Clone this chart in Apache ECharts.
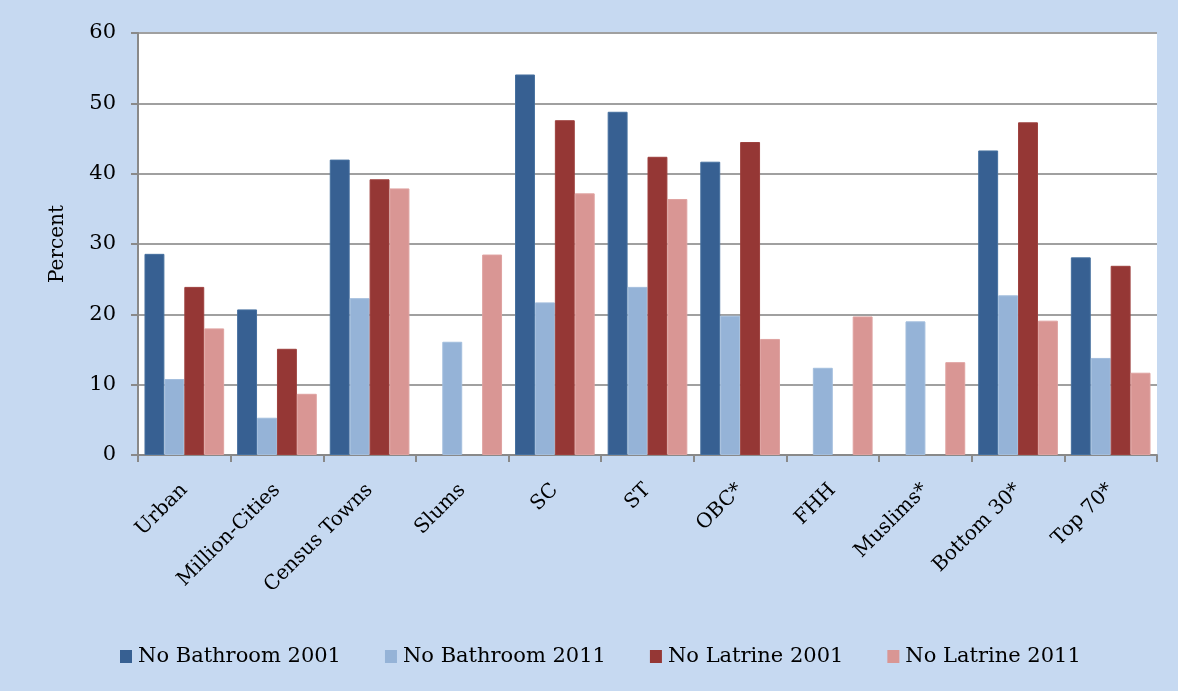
<!DOCTYPE html>
<html>
<head>
<meta charset="utf-8">
<script src="https://cdn.jsdelivr.net/npm/echarts@6/dist/echarts.min.js"></script>
<style>
  html, body { margin: 0; padding: 0; background: #c6d9f1; }
  #chart { width: 1178px; height: 691px; }
</style>
</head>
<body>
<div id="chart"></div>
<script>
// Household groups along the horizontal axis
const categories = ['Urban', 'Million-Cities', 'Census Towns', 'Slums', 'SC', 'ST', 'OBC*', 'FHH', 'Muslims*', 'Bottom 30*', 'Top 70*'];

// Percent of households without a bathroom / latrine (null = not available)
const noBathroom2001 = [28.6, 20.7, 42.0, null, 54.1, 48.8, 41.7, null, null, 43.3, 28.1];
const noBathroom2011 = [10.8, 5.3, 22.3, 16.1, 21.7, 23.9, 19.8, 12.4, 19.0, 22.7, 13.8];
const noLatrine2001  = [23.9, 15.1, 39.2, null, 47.6, 42.4, 44.5, null, null, 47.3, 26.9];
const noLatrine2011  = [18.0, 8.7, 37.9, 28.5, 37.2, 36.4, 16.5, 19.7, 13.2, 19.1, 11.7];

const seriesNames = ['No Bathroom 2001', 'No Bathroom 2011', 'No Latrine 2001', 'No Latrine 2011'];
const seriesData = [noBathroom2001, noBathroom2011, noLatrine2001, noLatrine2011];
const seriesColors = ['#376092', '#95b3d7', '#953735', '#d99694'];
const seriesEdges = ['#46709f', '#a3bedd', '#9d403e', '#dfa2a0'];

const FONT = 'DejaVu Serif';

const chart = echarts.init(document.getElementById('chart'), null, { renderer: 'canvas' });

chart.setOption({
  backgroundColor: '#c6d9f1',
  animation: false,
  textStyle: { fontFamily: FONT, color: '#000' },
  grid: { left: 138, right: 21, top: 33, bottom: 236, show: false },
  legend: {
    left: 120, top: 646, padding: 0,
    itemWidth: 12, itemHeight: 13, itemGap: 44,
    icon: 'rect',
    itemStyle: { borderWidth: 0 },
    textStyle: { fontFamily: FONT, fontSize: 21, color: '#000', padding: [0, 0, 0, 1] },
    data: seriesNames
  },
  xAxis: {
    type: 'category',
    data: categories,
    splitLine: { show: false },
    axisLine: { lineStyle: { color: '#898989', width: 2 } },
    axisTick: { show: true, length: 7, lineStyle: { color: '#898989', width: 2 } },
    axisLabel: {
      rotate: 45, margin: 32, interval: 0,
      fontFamily: FONT, fontSize: 20, color: '#000'
    }
  },
  yAxis: {
    type: 'value',
    min: 0, max: 60, interval: 10,
    name: 'Percent',
    nameLocation: 'middle',
    nameGap: 70,
    nameRotate: 90,
    nameTextStyle: { fontFamily: FONT, fontSize: 20, color: '#000' },
    axisLine: { show: true, lineStyle: { color: '#898989', width: 2 } },
    axisTick: { show: true, length: 7, lineStyle: { color: '#898989', width: 2 } },
    axisLabel: { margin: 22, fontFamily: FONT, fontSize: 21, color: '#000' },
    splitLine: { lineStyle: { color: '#a0a0a0', width: 2 } },
    // white plot background
    splitArea: { show: true, areaStyle: { color: ['#ffffff'] } }
  },
  series: seriesNames.map((name, i) => ({
    name,
    type: 'bar',
    data: seriesData[i],
    barGap: '0%',
    barCategoryGap: '14%',
    itemStyle: { color: seriesColors[i], borderColor: seriesEdges[i], borderWidth: 1 }
  }))
});
</script>
</body>
</html>
